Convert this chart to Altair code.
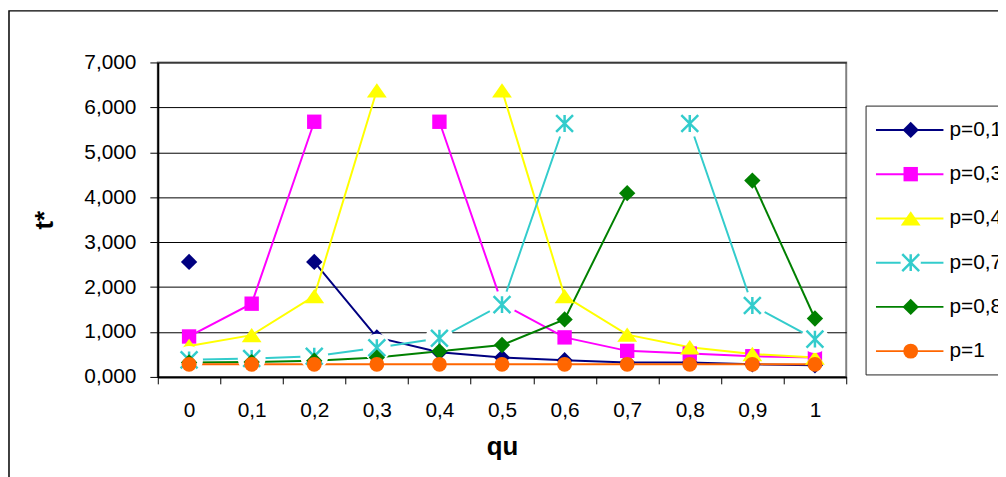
import altair as alt
import pandas as pd

# ---- data ----
qu = ["0", "0,1", "0,2", "0,3", "0,4", "0,5", "0,6", "0,7", "0,8", "0,9", "1"]
series = ["p=0,1", "p=0,3", "p=0,4", "p=0,7", "p=0,8", "p=1"]
p01 = [2.56, None, 2.56, 0.88, 0.55, 0.43, 0.37, 0.32, 0.32, 0.28, 0.26]
p03 = [0.90, 1.63, 5.68, None, 5.68, 1.63, 0.88, 0.58, 0.52, 0.46, 0.43]
p04 = [0.69, 0.93, 1.80, 6.38, None, 6.38, 1.80, 0.94, 0.66, 0.51, 0.43]
p07 = [0.38, 0.41, 0.46, 0.65, 0.86, 1.61, 5.64, None, 5.64, 1.59, 0.84]
p08 = [0.32, 0.33, 0.36, 0.43, 0.57, 0.71, 1.28, 4.09, None, 4.37, 1.30]
p1 = [0.28, 0.28, 0.28, 0.28, 0.28, 0.28, 0.28, 0.28, 0.28, 0.28, 0.28]
y_ticks = [0, 1, 2, 3, 4, 5, 6, 7]

colors = ["#000080", "#FF00FF", "#FFFF00", "#33CCCC", "#008000", "#FF6600"]
TRI = "M0,-0.72L-1,0.72L1,0.72Z"
AST = "M-1,-1L1,1M-1,1L1,-1M0,-1L0,1"
shapes = ["diamond", "square", TRI, AST, "diamond", "circle"]
sizes = [272, 210, 400, 289, 272, 225]

rows = []
for s, vals in zip(series, [p01, p03, p04, p07, p08, p1]):
    seg = 0
    for q, v in zip(qu, vals):
        if v is None:
            seg += 1
            continue
        rows.append({"qu": q, "series": s, "t": v, "seg": f"{s}-{seg}"})
df = pd.DataFrame(rows)
leg = pd.DataFrame({"series": series})

W, H = 694, 317
FONT = "Liberation Sans"

x_enc = alt.X(
    "qu:N", sort=qu, bandPosition=0.5,
    scale=alt.Scale(type="band", domain=qu, paddingInner=0, paddingOuter=0),
    axis=alt.Axis(tickBand="extent", labelAngle=0, tickSize=7, tickColor="black",
                  domainColor="black", domainWidth=2, grid=False,
                  labelFontSize=21, labelColor="black", labelPadding=16,
                  title="qu", titleFontSize=26, titleFontWeight="bold",
                  titleColor="black", titleX=W / 2, titleY=78, titleBaseline="alphabetic"),
)
y_enc = alt.Y(
    "t:Q",
    scale=alt.Scale(domain=[0, 7], nice=False, zero=True),
    axis=alt.Axis(values=y_ticks, labelExpr="replace(format(datum.value, '.3f'), '.', ',')",
                  tickSize=8, tickColor="black", domainColor="black", domainWidth=2,
                  grid=True, gridColor="black", gridWidth=1,
                  labelFontSize=21, labelColor="black", labelPadding=14,
                  title="t*", titleFontSize=26, titleFontWeight="bold", titleColor="black",
                  titleX=-114, titleY=H / 2, titleAngle=270, titleAlign="center",
                  titleBaseline="middle"),
)
color_enc = alt.Color("series:N", scale=alt.Scale(domain=series, range=colors), legend=None)

base = alt.Chart(df)
lines = base.mark_line(strokeWidth=2).encode(x=x_enc, y=y_enc, color=color_enc, detail="seg:N")

markers = []
for s, c, sh, sz in zip(series, colors, shapes, sizes):
    sub = base.transform_filter(alt.datum.series == s)
    if sh == AST:
        markers.append(sub.mark_point(shape="circle", filled=True, color="white", size=784,
                                      opacity=1).encode(x=x_enc, y=y_enc))
        markers.append(sub.mark_point(shape=sh, filled=False, color=c, size=sz, strokeWidth=2.5,
                                      opacity=1).encode(x=x_enc, y=y_enc))
    else:
        markers.append(sub.mark_point(shape=sh, filled=True, color=c, size=sz, strokeWidth=0,
                                      opacity=1).encode(x=x_enc, y=y_enc))

main = alt.layer(lines, *markers)

one = pd.DataFrame({"k": [0]})
frame = alt.Chart(one).mark_rect(fillOpacity=0, stroke="black", strokeWidth=1.5).encode(
    x=alt.value(-150), x2=alt.value(W + 400), y=alt.value(-52), y2=alt.value(H + 300))
legbox = alt.Chart(one).mark_rect(fill="white", stroke="#222222", strokeWidth=1).encode(
    x=alt.value(714), x2=alt.value(W + 400), y=alt.value(44), y2=alt.value(315))

ly = alt.Y("series:N", sort=series,
           scale=alt.Scale(type="point", domain=series, range=[68, 291], padding=0), axis=None)
lbase = alt.Chart(leg)
leg_layers = [lbase.mark_rule(strokeWidth=2).encode(
    x=alt.value(724), x2=alt.value(792), y=ly, color=color_enc)]
for s, c, sh, sz in zip(series, colors, shapes, sizes):
    sub = lbase.transform_filter(alt.datum.series == s)
    if sh == AST:
        leg_layers.append(sub.mark_point(shape="circle", filled=True, color="white", size=420,
                                         opacity=1).encode(x=alt.value(759), y=ly))
        leg_layers.append(sub.mark_point(shape=sh, filled=False, color=c, size=sz, strokeWidth=2.5,
                                         opacity=1).encode(x=alt.value(759), y=ly))
    else:
        leg_layers.append(sub.mark_point(shape=sh, filled=True, color=c, size=sz, strokeWidth=0,
                                         opacity=1).encode(x=alt.value(759), y=ly))
leg_layers.append(lbase.mark_text(align="left", baseline="middle", fontSize=21, font=FONT,
                                  color="black").encode(x=alt.value(798), y=ly, text="series:N"))
legend = alt.layer(*leg_layers)

chart = alt.layer(frame, main, legbox, legend).resolve_scale(
    y="independent", x="independent"
).properties(
    width=W, height=H,
    autosize=alt.AutoSizeParams(type="none"),
    padding={"left": 151, "top": 53, "right": 153, "bottom": 99},
    background="white",
).configure_view(stroke="#808080", strokeWidth=2).configure_axis(
    labelFont=FONT, titleFont=FONT
).configure_text(font=FONT)

chart.save("out.html", embed_options={"renderer": "svg", "actions": False})
